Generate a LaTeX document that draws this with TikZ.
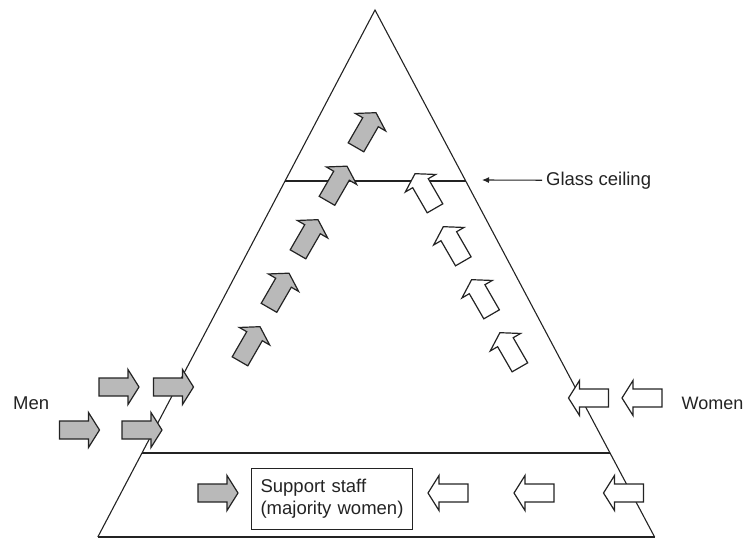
\documentclass[tikz,border=0pt]{standalone}
\usepackage{fontspec}
\setmainfont{Liberation Sans}
\usetikzlibrary{arrows.meta,calc}
\definecolor{arrowgray}{RGB}{185,185,185}
\definecolor{inkline}{RGB}{35,35,35}
\begin{document}
\begin{tikzpicture}[x=1pt,y=-1pt,
  tri/.style={draw=inkline, line width=1.1pt},
  lbl/.style={font=\fontsize{18.5}{22}\selectfont, inner sep=0pt, text=inkline},
  menarrow/.style={fill=arrowgray, draw=inkline},
  womenarrow/.style={fill=white, draw=inkline},
  pics/blockarrow/.style={code={
    \draw[#1, line width=1.2pt, line join=miter]
      (-20,-9) -- (9,-9) -- (9,-17.5) -- (20,0) -- (9,17.5) -- (9,9) -- (-20,9) -- cycle;}},
]
\useasboundingbox (0,0) rectangle (744,539);

% triangle
\coordinate (apex) at (375,10);
\coordinate (bl) at (97.8,537);
\coordinate (br) at (654.6,537);
\draw[tri, line join=miter] (bl) -- (apex) -- (br);
\draw[tri] (bl) -- (br);
\coordinate (gcL) at ($(apex)!0.3245!(bl)$);
\coordinate (gcR) at ($(apex)!0.3245!(br)$);
\draw[tri] (gcL) -- (gcR);
\coordinate (bsL) at ($(apex)!0.8406!(bl)$);
\coordinate (bsR) at ($(apex)!0.8406!(br)$);
\draw[tri] (bsL) -- (bsR);

% glass ceiling label
\node[lbl, anchor=base west] (gc) at (546,185) {Glass ceiling};
\coordinate (gcTip) at (482,180);
\draw[draw=inkline, line width=1.1pt, -{Latex[length=7pt,width=6pt]}] ([xshift=-4pt]gc.west) -- (gcTip);

% side labels
\node[lbl, anchor=base west] (men) at (13,409) {Men};
\node[lbl, font=\fontsize{18}{22}\selectfont, anchor=base east] (women) at (743.5,409) {Women};

% support staff box
\node[lbl, draw=inkline, line width=1.1pt, align=left, text width=143pt, inner xsep=9pt,
      minimum height=61pt, anchor=north west] (ss) at (251,468) {Support staff\\(majority women)};

% men horizontal arrows
\pic at (119,387) {blockarrow=menarrow};
\pic at (173.5,387) {blockarrow=menarrow};
\pic at (79.5,430) {blockarrow=menarrow};
\pic at (142,430) {blockarrow=menarrow};
\pic at (218,493) {blockarrow=menarrow};

% women horizontal arrows
\pic[rotate=180] at (588.5,398) {blockarrow=womenarrow};
\pic[rotate=180] at (642,398) {blockarrow=womenarrow};
\pic[rotate=180] at (448,493) {blockarrow=womenarrow};
\pic[rotate=180] at (534,493) {blockarrow=womenarrow};
\pic[rotate=180] at (623.5,493) {blockarrow=womenarrow};

% men diagonal arrows
\foreach \k in {0,...,4}{
  \pic[rotate=60] at ({366-29*\k},{130+53.5*\k}) {blockarrow=menarrow};
}
% women diagonal arrows
\foreach \k in {0,...,3}{
  \pic[rotate=120] at ({425+28.3*\k},{191+53*\k}) {blockarrow=womenarrow};
}
\end{tikzpicture}
\end{document}
